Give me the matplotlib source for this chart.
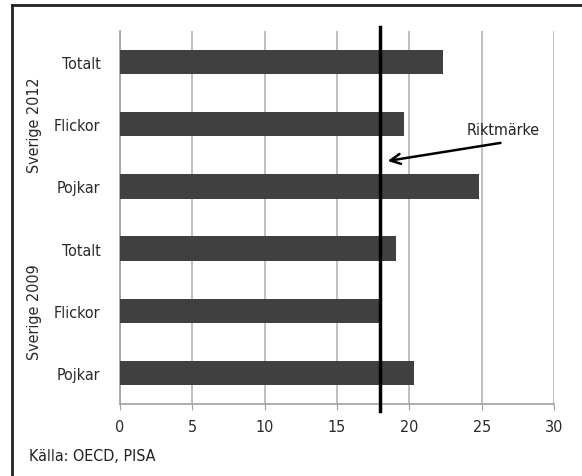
import matplotlib
matplotlib.use("Agg")
import matplotlib.pyplot as plt
from matplotlib.lines import Line2D

plt.rcParams["font.family"] = ["DejaVu Sans"]
plt.rcParams["font.stretch"] = "condensed"

# bottom to top, as drawn by barh
labels = ["Pojkar", "Flickor", "Totalt", "Pojkar", "Flickor", "Totalt"]
values = [20.3, 18.0, 19.1, 24.8, 19.6, 22.3]
groups = ["Sverige 2009", "Sverige 2012"]
benchmark = 18.0

fig = plt.figure(figsize=(5.82, 4.77), dpi=100)
ax = fig.add_axes([0.2062, 0.1509, 0.7457, 0.7820])

pos = list(range(len(values)))
ax.barh(pos, values, height=0.39, color="#404040", zorder=3)
ax.set_ylim(-0.5, 5.5)
ax.set_xlim(0, 30)
ax.set_xticks(range(0, 31, 5))
ax.set_yticks(pos)
ax.set_yticklabels(labels)

ax.grid(axis="x", color="#b4b4b4", linewidth=1.2, zorder=0)
for s in ["top", "right"]:
    ax.spines[s].set_visible(False)
for s in ["left", "bottom"]:
    ax.spines[s].set_color("#a0a0a0")
    ax.spines[s].set_linewidth(1.2)
ax.tick_params(axis="y", length=0, pad=14, labelsize=11.5, labelcolor="#2a2a2a")
ax.tick_params(axis="x", length=4, color="#a0a0a0", pad=7, labelsize=11.5, labelcolor="#2a2a2a")

# benchmark line, a bit longer than the plot area
ax.plot([benchmark, benchmark], [-0.62, 5.57], color="black", linewidth=2.5,
        zorder=4, clip_on=False)
ax.annotate("", xy=(18.5, 3.41), xytext=(26.3, 3.70),
            arrowprops=dict(arrowstyle="->", color="black", lw=1.8,
                            shrinkA=0, shrinkB=0, mutation_scale=18))
ax.text(26.5, 3.92, "Riktmärke", ha="center", va="center", fontsize=11.5,
        color="#222222")

fig.text(0.060, 0.346, groups[0], rotation=90, ha="center", va="center",
         fontsize=11.5, color="#2a2a2a")
fig.text(0.060, 0.738, groups[1], rotation=90, ha="center", va="center",
         fontsize=11.5, color="#2a2a2a")
fig.text(0.050, 0.044, "Källa: OECD, PISA", ha="left", va="center",
         fontsize=11.5, color="#222222")

# frame around the figure (only top and left edges are inside the crop)
fig.add_artist(Line2D([12 / 582, 1], [1 - 6 / 477] * 2, color="#222222", lw=2))
fig.add_artist(Line2D([12 / 582] * 2, [0, 1 - 6 / 477], color="#222222", lw=2))

fig.savefig("out.png", dpi=100)
